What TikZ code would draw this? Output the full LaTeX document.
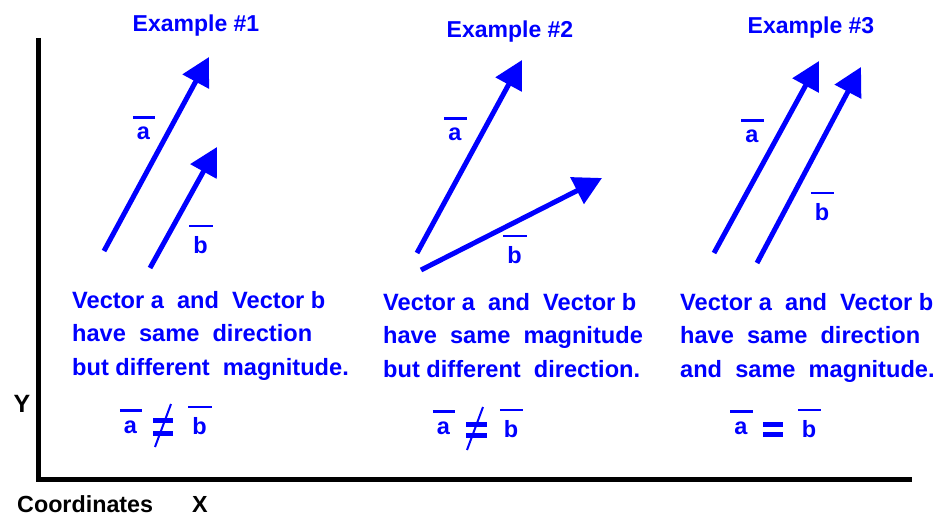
\documentclass[tikz,border=0pt]{standalone}
\usepackage{fontspec}
\setmainfont{Liberation Sans}
\usetikzlibrary{arrows.meta}
\definecolor{vblue}{RGB}{0,0,255}
\newcommand\ovl[1]{\setbox0\hbox{#1}\rlap{\kern-4pt\raise\dimexpr\ht0+8.5pt\relax\hbox{\vrule height 2.5pt depth 0pt width \dimexpr\wd0+9pt\relax}}\box0}
\begin{document}
\begin{tikzpicture}[x=1pt,y=-1pt,
  txt/.style={font=\fontsize{23.6}{33.5}\selectfont\bfseries, text=vblue, inner sep=0pt, anchor=base west},
  ttl/.style={font=\fontsize{23}{28}\selectfont\bfseries, text=vblue, inner sep=0pt, anchor=base},
  lbl/.style={font=\fontsize{23.5}{28}\selectfont\bfseries, text=vblue, inner sep=0pt, anchor=base},
  axlbl/.style={font=\fontsize{23.3}{28}\selectfont\bfseries, text=black, inner sep=0pt, anchor=base},
  vec/.style={draw=vblue, line width=5pt, -{Triangle[length=28pt,width=29pt]}},
  bar/.style={draw=vblue, line width=5pt},
  slash/.style={draw=vblue, line width=2pt},
  axis/.style={draw=black, line width=5pt}]
\useasboundingbox (0,0) rectangle (940,516);
% axes
\coordinate (top) at (38,38);
\coordinate (origin) at (38,479.5);
\coordinate (right) at (912,479.5);
\draw[axis] (top) -- (origin) -- (right);
\node[axlbl, font=\fontsize{25}{28}\selectfont\bfseries] (ylab) at (22,412) {Y};
\node[axlbl, anchor=base west] (coord) at (17,512) {Coordinates};
\node[axlbl] (xlab) at (200,512) {X};
% titles
\node[ttl] (t1) at (196,32) {Example \#1};
\node[ttl] (t2) at (510,38) {Example \#2};
\node[ttl] (t3) at (811,34) {Example \#3};
% example 1 vectors
\coordinate (a1s) at (104,251); \coordinate (a1e) at (209,57);
\coordinate (b1s) at (150,268); \coordinate (b1e) at (217,147);
\draw[vec] (a1s) -- (a1e);
\draw[vec] (b1s) -- (b1e);
\node[lbl] (la1) at (143.5,140) {\ovl{a}};
\node[lbl] (lb1) at (200.5,253) {\ovl{b}};
% example 2 vectors
\coordinate (a2s) at (417,253); \coordinate (a2e) at (522,60);
\coordinate (b2s) at (421,270); \coordinate (b2e) at (602,178);
\draw[vec] (a2s) -- (a2e);
\draw[vec] (b2s) -- (b2e);
\node[lbl] (la2) at (455,141) {\ovl{a}};
\node[lbl] (lb2) at (514.5,263) {\ovl{b}};
% example 3 vectors
\coordinate (a3s) at (714,253); \coordinate (a3e) at (819,61);
\coordinate (b3s) at (757,263); \coordinate (b3e) at (861,67);
\draw[vec] (a3s) -- (a3e);
\draw[vec] (b3s) -- (b3e);
\node[lbl] (la3) at (752,143) {\ovl{a}};
\node[lbl] (lb3) at (822,220) {\ovl{b}};
% texts
\node[txt] (e1l1) at (72,308) {Vector a\ \ and\ \ Vector b};
\node[txt] (e1l2) at (72,341.5) {have\ \ same\ \ direction};
\node[txt] (e1l3) at (72,375) {but different\ \ magnitude.};
\node[txt] (e2l1) at (383,310) {Vector a\ \ and\ \ Vector b};
\node[txt] (e2l2) at (383,343.5) {have\ \ same\ \ magnitude};
\node[txt] (e2l3) at (383,377) {but different\ \ direction.};
\node[txt] (e3l1) at (680,310) {Vector a\ \ and\ \ Vector b};
\node[txt] (e3l2) at (680,343.5) {have\ \ same\ \ direction};
\node[txt] (e3l3) at (680,377) {and\ \ same\ \ magnitude.};
% equations
\node[lbl] (q1a) at (130.5,433) {\ovl{a}};
\draw[bar] (153,420) -- (173,420);
\draw[bar] (153,433) -- (173,433);
\draw[slash] (171,404) -- (155,447);
\node[lbl] (q1b) at (199.5,434) {\ovl{b}};
\node[lbl] (q2a) at (443.5,434) {\ovl{a}};
\draw[bar] (466,424.5) -- (487,424.5);
\draw[bar] (466,435) -- (487,435);
\draw[slash] (483,407) -- (467,450);
\node[lbl] (q2b) at (511,437) {\ovl{b}};
\node[lbl] (q3a) at (741,434) {\ovl{a}};
\draw[bar] (763,424.5) -- (783,424.5);
\draw[bar] (763,434.5) -- (783,434.5);
\node[lbl] (q3b) at (809,437) {\ovl{b}};
\end{tikzpicture}
\end{document}
